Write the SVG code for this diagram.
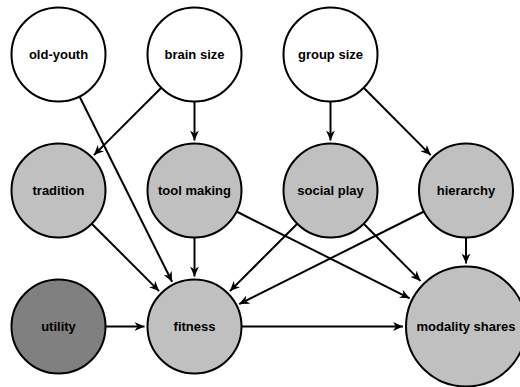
<svg xmlns="http://www.w3.org/2000/svg" width="520" height="387" viewBox="0 0 520 387">
<style>
.n{stroke:#000;stroke-width:2}
.w{fill:#fff}
.g{fill:#c0c0c0}
.d{fill:#808080}
text{font-family:"Liberation Sans",Arial,sans-serif;font-size:13px;font-weight:bold;text-anchor:middle;fill:#000}
.e line{stroke:#000;stroke-width:2;marker-end:url(#a)}
</style>
<defs>
<marker id="a" markerUnits="userSpaceOnUse" markerWidth="11" markerHeight="9" refX="10" refY="4.5" orient="auto" viewBox="0 0 11 9">
<path d="M0,0 L10,4.5 L0,9 L3,4.5 z" fill="#000"/>
</marker>
</defs>
<rect width="520" height="387" fill="#fff"/>
<g class="e" id="edges">
<line x1="161.3" y1="87.7" x2="93.9" y2="155.1"/>
<line x1="79.5" y1="96.5" x2="172.1" y2="281.8"/>
<line x1="194.5" y1="101.5" x2="194.5" y2="140.5"/>
<line x1="330.5" y1="101.5" x2="330.5" y2="140.5"/>
<line x1="363.7" y1="87.8" x2="430.7" y2="155.1"/>
<line x1="91.7" y1="223.7" x2="159.1" y2="291.1"/>
<line x1="194.5" y1="237.5" x2="194.5" y2="276.5"/>
<line x1="236.5" y1="211.5" x2="409.7" y2="298.3"/>
<line x1="297.3" y1="223.7" x2="229.9" y2="291.1"/>
<line x1="363.7" y1="223.8" x2="420.5" y2="280.9"/>
<line x1="424" y1="211.5" x2="239.2" y2="304.1"/>
<line x1="466" y1="237.5" x2="466" y2="263.5"/>
<line x1="105.5" y1="326.5" x2="144.5" y2="326.5"/>
<line x1="241.5" y1="326.5" x2="403" y2="326.5"/>
</g>
<g id="old-youth"><circle class="n w" cx="58.5" cy="54.5" r="47"/><text x="58.5" y="59">old-youth</text></g>
<g id="brain-size"><circle class="n w" cx="194.5" cy="54.5" r="47"/><text x="194.5" y="59">brain size</text></g>
<g id="group-size"><circle class="n w" cx="330.5" cy="54.5" r="47"/><text x="330.5" y="59">group size</text></g>
<g id="tradition"><circle class="n g" cx="58.5" cy="190.5" r="47"/><text x="58.5" y="195">tradition</text></g>
<g id="tool-making"><circle class="n g" cx="194.5" cy="190.5" r="47"/><text x="194.5" y="195">tool making</text></g>
<g id="social-play"><circle class="n g" cx="330.5" cy="190.5" r="47"/><text x="330.5" y="195">social play</text></g>
<g id="hierarchy"><circle class="n g" cx="466" cy="190.5" r="47"/><text x="466" y="195">hierarchy</text></g>
<g id="utility"><circle class="n d" cx="58.5" cy="326.5" r="47"/><text x="58.5" y="331">utility</text></g>
<g id="fitness"><circle class="n g" cx="194.5" cy="326.5" r="47"/><text x="194.5" y="331">fitness</text></g>
<g id="modality-shares"><circle class="n g" cx="466" cy="326.5" r="60"/><text x="466" y="331">modality shares</text></g>
</svg>
